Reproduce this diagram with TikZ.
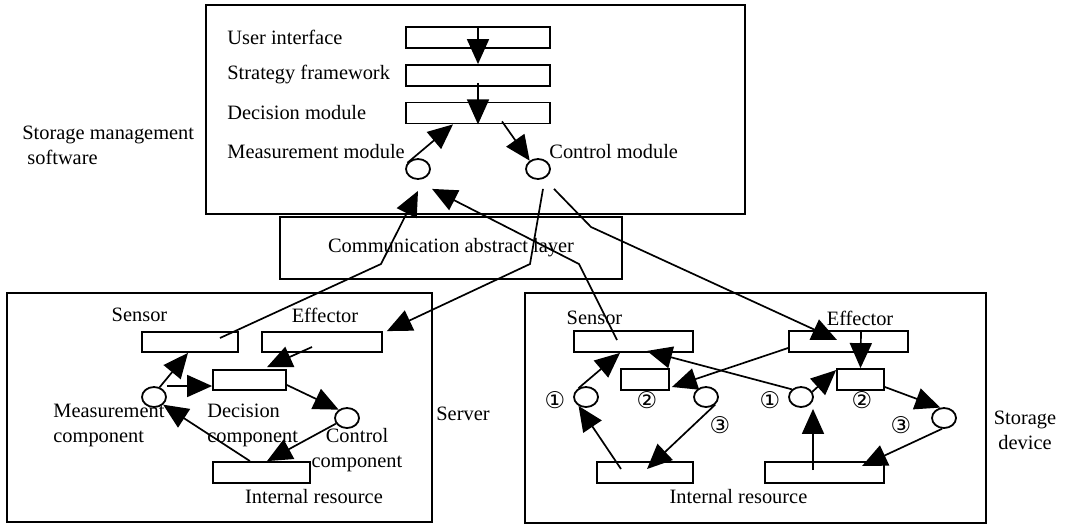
\documentclass[tikz,border=0pt]{standalone}
\usepackage{fontspec}
\setmainfont{Liberation Serif}
\newfontfamily\circfont{DejaVu Sans}
\usetikzlibrary{shapes.geometric,arrows.meta}

\begin{document}
\begin{tikzpicture}[x=0.5pt,y=-0.5pt,font=\fontsize{10.2}{12.5}\selectfont,
  big box/.style={draw,line width=1pt,inner sep=0pt},
  unit box/.style={draw,line width=0.9pt,inner sep=0pt,minimum height=10.5pt},
  port/.style={draw,ellipse,line width=0.9pt,inner sep=0pt,minimum width=12pt,minimum height=10pt},
  link/.style={line width=0.85pt,-{Triangle[length=12.5pt,width=11pt]}},
  label/.style={inner sep=0pt},
  num/.style={inner sep=0pt,font=\circfont\fontsize{11.5}{12}\selectfont}]

\useasboundingbox (0,0) rectangle (1065,525);

% Storage management software
\node[big box,minimum width=269.5pt,minimum height=104.5pt] (sw) at (475.5,109.5) {};
\node[unit box,minimum width=72pt] (ui) at (478,37.5) {};
\node[unit box,minimum width=72pt] (sf) at (478,75.5) {};
\node[unit box,minimum width=72pt] (dm) at (478,113) {};
\node[port] (mm) at (418,169) {};
\node[port] (cm) at (538,169) {};

\node[label,anchor=west] (lui) at (227,37) {User interface};
\node[label,anchor=west] (lsf) at (227,75) {Strategy framework};
\node[label,anchor=west] (ldm) at (227,113) {Decision module};
\node[label,anchor=west] (lmm) at (227,152) {Measurement module};
\node[label,anchor=west] (lcm) at (549,152) {Control module};
\node[label,anchor=west,align=left] (lsms) at (22,145) {Storage management\\\hspace*{2.5pt}software};

% Communication abstract layer
\node[big box,minimum width=171pt,minimum height=31pt] (cal) at (451,248) {Communication abstract layer};

% Server
\node[big box,minimum width=212.5pt,minimum height=114.5pt] (srv) at (219.5,407.5) {};
\node[unit box,minimum width=48pt,minimum height=10pt] (ssen) at (190,342) {};
\node[unit box,minimum width=60pt,minimum height=10pt] (seff) at (322,342) {};
\node[unit box,minimum width=36.5pt,minimum height=10pt] (sdec) at (249.5,380) {};
\node[unit box,minimum width=48.5pt] (sint) at (261.5,472.5) {};
\node[port] (smc) at (154,397) {};
\node[port] (scc) at (347,418) {};

\node[label] (lssen) at (139.5,315) {Sensor};
\node[label] (lseff) at (325,315) {Effector};
\node[label,anchor=west,align=left] (lsmc) at (53,425) {Measurement\\component};
\node[label,anchor=west,align=left] (lsdec) at (207,425) {Decision\\component};
\node[label,align=center] (lscc) at (357,450) {Control\\component};
\node[label] (lsint) at (314,497) {Internal resource};
\node[label] (lsrv) at (463,414) {Server};

% Storage device
\node[big box,minimum width=230.5pt,minimum height=115pt] (sto) at (755.5,408) {};
\node[unit box,minimum width=59.5pt] (stsen) at (633.5,341.5) {};
\node[unit box,minimum width=59.5pt] (steff) at (848.5,341.5) {};
\node[unit box,minimum width=24pt] (stdl) at (645,379.5) {};
\node[unit box,minimum width=23.5pt] (stdr) at (860.5,379.5) {};
\node[unit box,minimum width=48pt] (stil) at (645,472.5) {};
\node[unit box,minimum width=59.5pt] (stir) at (824.5,472.5) {};
\node[port] (stml) at (586,397) {};
\node[port] (stcl) at (706,397) {};
\node[port] (stmr) at (801,397) {};
\node[port] (stcr) at (944,418) {};

\node[label] (lstsen) at (594.5,318) {Sensor};
\node[label] (lsteff) at (860,318) {Effector};
\node[label] (lstint) at (738.5,497) {Internal resource};
\node[label,align=center] (lsto) at (1025,430) {Storage\\device};
\node[num] (n1l) at (555,400) {①};
\node[num] (n2l) at (647,400) {②};
\node[num] (n3l) at (720,425) {③};
\node[num] (n1r) at (770,400) {①};
\node[num] (n2r) at (862,400) {②};
\node[num] (n3r) at (901,425) {③};

% Bends of the long links
\coordinate (b1) at (381,264);
\coordinate (b2) at (579,264);
\coordinate (b3) at (530,264);
\coordinate (b4) at (591,227);

% Links inside the software
\draw[link] (ui.north) -- (sf.north);
\draw[link] ([yshift=2pt]sf.south) -- (dm.south);
\draw[link] (mm.150) -- ([xshift=-12.5pt]dm.south);
\draw[link] ([xshift=12pt,yshift=1.5pt]dm.south) -- (cm.135);

% Links through the communication layer
\draw[link] ([xshift=15pt,yshift=2pt]ssen.center) -- (b1) -- ([yshift=-5.5pt]mm.south);
\draw[link] ([xshift=-8.25pt,yshift=0.75pt]stsen.center) -- (b2) -- ([xshift=7pt,yshift=-4.5pt]mm.south);
\draw[link] ([xshift=2.5pt,yshift=-4.5pt]cm.south) -- (b3) -- ([xshift=2pt]seff.north east);
\draw[link] ([xshift=8pt,yshift=-4.5pt]cm.south) -- (b4) -- ([xshift=-5.75pt,yshift=0.75pt]steff.center);

% Server loop
\draw[link] (smc.60) -- ([xshift=-1pt]ssen.south);
\draw[link] ([yshift=5.5pt]smc.east) -- ([yshift=-3pt]sdec.west);
\draw[link] ([xshift=-5pt,yshift=-2.5pt]seff.center) -- ([xshift=8.75pt,yshift=1pt]sdec.north);
\draw[link] ([yshift=-2.5pt]sdec.east) -- (scc.135);
\draw[link] (scc.207) -- ([xshift=2.75pt]sint.north);
\draw[link] ([xshift=-5.75pt]sint.north) -- (smc.-40);

% Storage device loops
\draw[link] (stml.130) -- ([xshift=-6.75pt]stsen.south);
\draw[link] (stmr.140) -- ([xshift=6.75pt,yshift=1pt]stsen.south);
\draw[link] ([yshift=-3.25pt]steff.west) -- ([xshift=1pt,yshift=-3.75pt]stdl.east);
\draw[link] ([xshift=-12pt,yshift=1.75pt]stil.center) -- (stml.230);
\draw[link] (stcl.-40) -- ([xshift=1pt,yshift=1.75pt]stil.center);
\draw[link] (stmr.25) -- ([yshift=-1pt]stdr.north west);
\draw[link] ([xshift=6.25pt]steff.north) -- (stdr.north);
\draw[link] ([yshift=-3.75pt]stdr.east) -- (stcr.110);
\draw[link] (stcr.260) -- ([xshift=18.75pt,yshift=3.25pt]stir.center);
\draw[link] ([xshift=-5.75pt,yshift=1.25pt]stir.center) -- ([xshift=6pt,yshift=-0.5pt]stmr.south);

\end{tikzpicture}
\end{document}
